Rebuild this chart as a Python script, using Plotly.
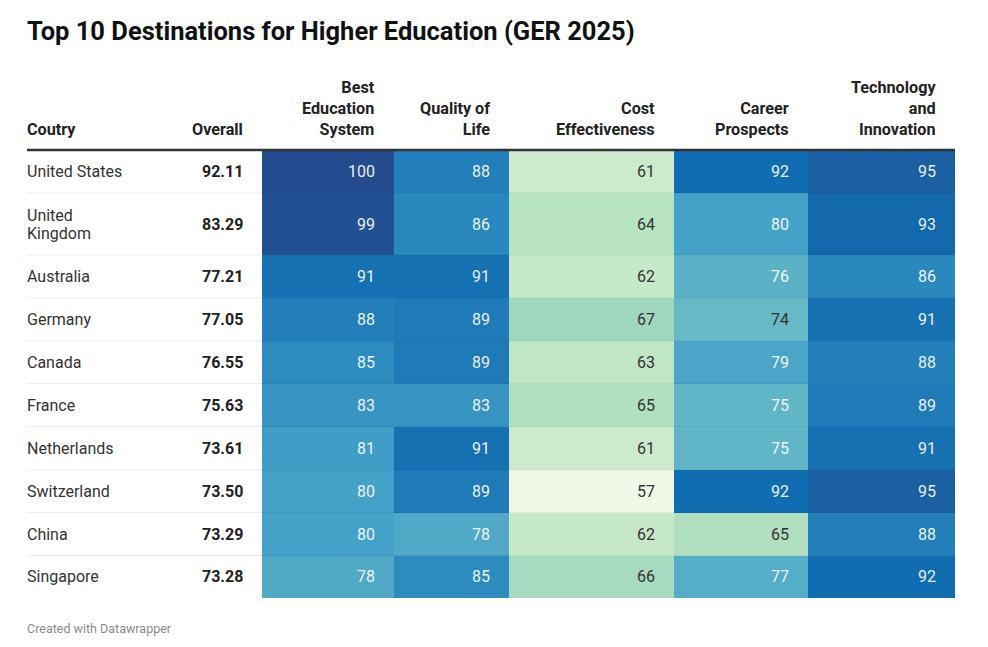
import plotly.graph_objects as go

# ---------------- data ----------------
title = "Top 10 Destinations for Higher Education (GER 2025)"
footer = "Created with Datawrapper"
countries = ["United States", "United<br>Kingdom", "Australia", "Germany", "Canada",
             "France", "Netherlands", "Switzerland", "China", "Singapore"]
overall = [92.11, 83.29, 77.21, 77.05, 76.55, 75.63, 73.61, 73.50, 73.29, 73.28]
best_education = [100, 99, 91, 88, 85, 83, 81, 80, 80, 78]
quality_of_life = [88, 86, 91, 89, 89, 83, 91, 89, 78, 85]
cost_effectiveness = [61, 64, 62, 67, 63, 65, 61, 57, 62, 66]
career_prospects = [92, 80, 76, 74, 79, 75, 75, 92, 65, 77]
tech_innovation = [95, 93, 86, 91, 88, 89, 91, 95, 88, 92]
col_headers = ["Coutry", "Overall", "Best<br>Education<br>System", "Quality of<br>Life",
               "Cost<br>Effectiveness", "Career<br>Prospects", "Technology<br>and<br>Innovation"]

# ---------------- layout constants ----------------
W, H = 988, 647
FONT = "Roboto"
x_left = 25
x_overall_right = 245
col_edges = [262, 394, 509, 674, 808, 955]
row_edges = [150, 193, 255, 298, 341, 383.5, 426.5, 470, 512.5, 555.5, 597.5]
pad_right = 17
body_size = 16
header_size = 16.2
body_line = 18

score_cols = [best_education, quality_of_life, cost_effectiveness, career_prospects, tech_innovation]
z = [[score_cols[c][r] for c in range(len(score_cols))] for r in range(len(countries))]

zmin, zmax = 57, 100
stops = [(57, "#eff8e7"), (61, "#cdebcc"), (64, "#b8e4c1"), (67, "#9fd7be"),
         (74, "#66bac6"), (80, "#44a1c8"), (85, "#2c8cbf"), (89, "#1f7ab8"),
         (92, "#116db1"), (95, "#1b5fa3"), (100, "#244b8e")]
colorscale = [[(v - zmin) / (zmax - zmin), c] for v, c in stops]

fig = go.Figure()
fig.add_trace(go.Heatmap(
    x=col_edges, y=row_edges, z=z, zmin=zmin, zmax=zmax,
    colorscale=colorscale, showscale=False, hoverinfo="skip",
))

annotations = []
shapes = []

# title
annotations.append(dict(x=x_left, y=31, text="<b>" + title + "</b>", showarrow=False,
                        xanchor="left", yanchor="middle",
                        font=dict(family=FONT, size=25.5, color="#111")))
# footer
annotations.append(dict(x=x_left, y=628, text=footer, showarrow=False,
                        xanchor="left", yanchor="middle",
                        font=dict(family=FONT, size=12.5, color="#8a8a8a")))

# headers
header_x = [x_left, x_overall_right] + [e - pad_right for e in col_edges[1:]]
for i, h in enumerate(col_headers):
    annotations.append(dict(x=header_x[i], y=141, text="<b>" + h + "</b>", showarrow=False,
                            xanchor="left" if i == 0 else "right", yanchor="bottom",
                            align="left" if i == 0 else "right",
                            font=dict(family=FONT, size=header_size, color="#222")))

# body
for r in range(len(countries)):
    yc = (row_edges[r] + row_edges[r + 1]) / 2
    lines = countries[r].split("<br>")
    n = len(lines)
    for k, ln in enumerate(lines):
        annotations.append(dict(x=x_left, y=yc + (k - (n - 1) / 2) * body_line, text=ln,
                                showarrow=False, xanchor="left", yanchor="middle", align="left",
                                font=dict(family=FONT, size=body_size, color="#333")))
    annotations.append(dict(x=x_overall_right, y=yc, text="<b>%.2f</b>" % overall[r],
                            showarrow=False, xanchor="right", yanchor="middle",
                            font=dict(family=FONT, size=body_size, color="#222")))
    for c in range(len(score_cols)):
        v = score_cols[c][r]
        annotations.append(dict(x=col_edges[c + 1] - pad_right, y=yc, text=str(v),
                                showarrow=False, xanchor="right", yanchor="middle",
                                font=dict(family=FONT, size=body_size,
                                          color="#333" if v <= 74 else "rgba(255,255,255,0.92)")))

# row separators
for yb in row_edges[1:-1]:
    shapes.append(dict(type="line", x0=27, x1=col_edges[0], y0=yb, y1=yb,
                       line=dict(color="#ececec", width=1)))
    shapes.append(dict(type="line", x0=col_edges[0], x1=col_edges[-1], y0=yb, y1=yb,
                       line=dict(color="rgba(0,0,0,0.05)", width=1)))
# header line
shapes.append(dict(type="line", x0=27, x1=col_edges[-1], y0=row_edges[0], y1=row_edges[0],
                   line=dict(color="#333", width=2.5)))

fig.update_layout(
    width=W, height=H, margin=dict(l=0, r=0, t=0, b=0),
    paper_bgcolor="white", plot_bgcolor="white",
    xaxis=dict(range=[0, W], visible=False, fixedrange=True),
    yaxis=dict(range=[H, 0], visible=False, fixedrange=True),
    annotations=annotations, shapes=shapes, showlegend=False,
)

fig.write_html("out.html", config={"displayModeBar": False},
               post_script="document.body.style.margin='0';")
